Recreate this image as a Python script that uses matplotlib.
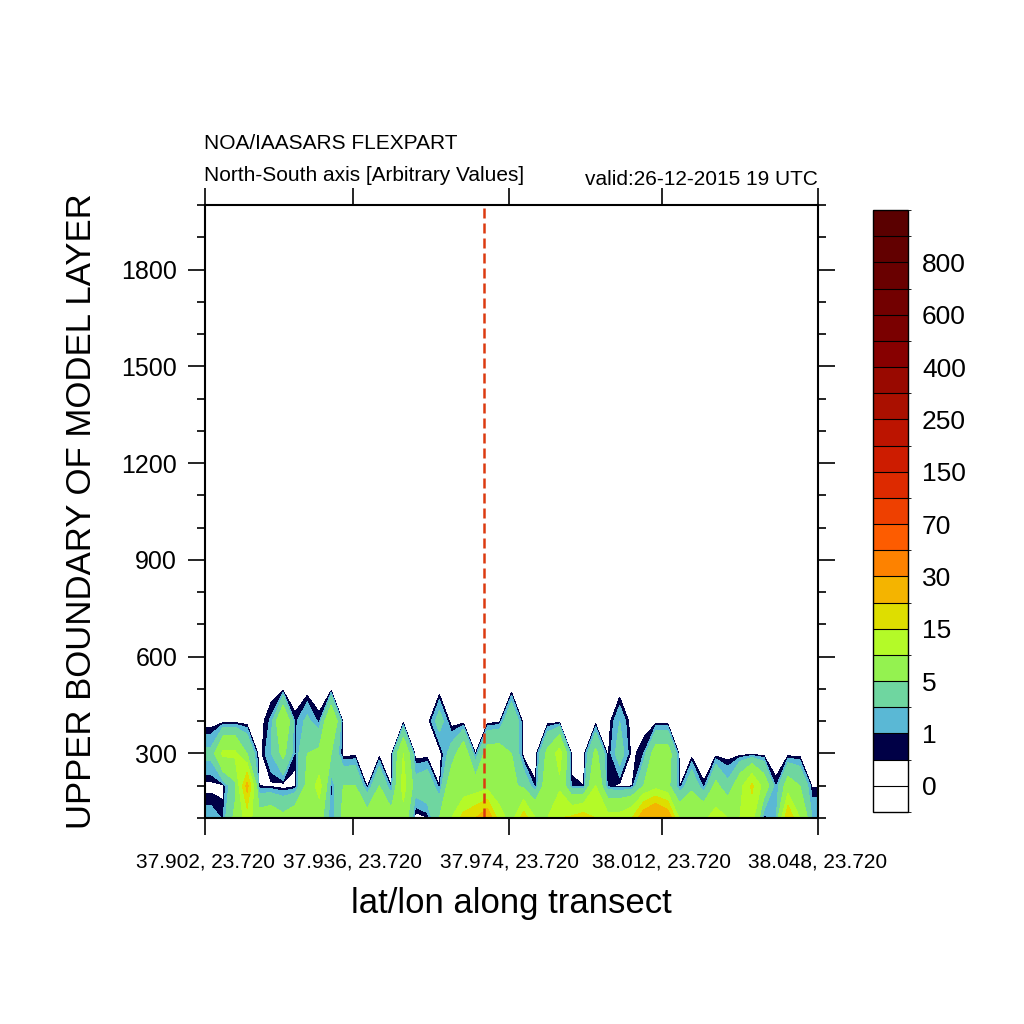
import numpy as np
import matplotlib as mpl
import matplotlib.pyplot as plt
from matplotlib.colors import ListedColormap, BoundaryNorm

plt.rcParams['font.family'] = ['Liberation Sans', 'DejaVu Sans']

# model layer tops and transect columns
heights = [100, 200, 300, 400, 500]
columns = np.arange(51)

# concentration at each layer, one value per transect column
conc_100 = [1.5, 0.9, 6, 12, 7, 8, 6, 8, 8, 7, 0.7, 6, 8, 7, 8, 7, 8, 0, 0.4, 5,
            10, 17, 20, 25, 12, 8, 18, 10, 10, 15, 16, 18, 15, 12, 12, 15, 25, 30, 25, 9,
            10, 9, 12, 10, 10, 12, 0.3, 1.5, 20, 10, 2]
conc_200 = [0.2, 0.2, 4, 22, 0.5, 0.3, 0, 0.3, 6, 12, 0.7, 5, 5, 0.3, 5, 0.5, 12, 3, 4, 0.5,
            8, 6, 7, 8, 7, 6, 4, 0.6, 8, 9, 0.6, 0.5, 10, 0.6, 0.3, 0.4, 5, 8, 6, 0.4,
            4, 0.6, 6, 2.5, 8, 16, 8, 0.7, 7, 5, 0.4]
conc_300 = [2.5, 11, 11, 5, 0, 2, 6, 0.7, 5, 6, 5, 0, 0.2, 0, 0, 0, 10, 0, 0, 0,
            3, 8, 0.5, 7, 7, 5, 0, 0, 6, 12, 0.3, 0, 6, 0.3, 3, 0.2, 1, 7, 7, 0,
            0, 0, 0, 0, 0, 0, 0, 0, 0, 0, 0]
conc_400 = [0, 0, 0, 0, 0, 1.2, 10, 0.7, 2.5, 0.7, 10, 0, 0, 0, 0, 0, 0, 0, 0, 3,
            0, 0, 0, 0, 0.3, 5, 0, 0, 0, 0, 0, 0, 0, 0, 2, 0, 0, 0, 0, 0,
            0, 0, 0, 0, 0, 0, 0, 0, 0, 0, 0]
conc_500 = [0] * 51

levels = [0, 0.5, 1, 2, 5, 10, 15, 20, 30, 50, 70, 100, 150, 200, 250, 300,
          400, 500, 600, 700, 800, 900]
box_colors = ['#ffffff', '#ffffff', '#000046', '#5ab8d5', '#6fd6a0', '#94f250',
              '#b4fa28', '#dede00', '#f4b400', '#fd8200', '#fd5c00', '#ee4000',
              '#dd2a00', '#cd1c00', '#bc1400', '#aa1000', '#990900', '#870000',
              '#7a0000', '#720000', '#690000', '#620000', '#5a0000']
label_text = ['0', '1', '5', '15', '30', '70', '150', '250', '400', '600', '800']

tick_cols = [-0.5, 11.8, 24.8, 37.5, 50.5]
tick_text = ['37.902, 23.720', '37.936, 23.720', '37.974, 23.720',
             '38.012, 23.720', '38.048, 23.720']
station_col = 22.7

z = np.array([conc_100, conc_200, conc_300, conc_400, conc_500], dtype=float)
# stretch the edge columns out to the cell borders
zp = np.pad(z, ((0, 0), (1, 1)), mode='edge')
xp = np.concatenate([[columns[0] - 0.5], columns, [columns[-1] + 0.5]])

fig = plt.figure(figsize=(10.24, 10.24), dpi=100)
ax = fig.add_axes([205 / 1024, 1 - 818 / 1024, 613 / 1024, 613 / 1024])
cax = fig.add_axes([873 / 1024, 1 - 812 / 1024, 35 / 1024, 602 / 1024])

ax.contourf(xp, heights, zp, levels=levels, colors=box_colors[1:22])
ax.axvline(station_col, color='#dc3a10', lw=1.8, ls=(0, (4, 2)))

ax.set_xlim(-0.5, 50.5)
ax.set_ylim(100, 2000)
ax.set_xticks(tick_cols)
ax.set_xticklabels(tick_text, fontsize=15)
ax.set_yticks(np.arange(300, 1801, 300))
ax.set_yticks(np.arange(100, 2001, 100), minor=True)
ax.tick_params(axis='y', labelsize=18)
ax.tick_params(which='major', direction='out', length=12, width=1.2,
               top=True, right=True, pad=8)
ax.tick_params(axis='x', pad=13)
ax.tick_params(axis='y', which='minor', direction='out', length=6, width=1.2,
               left=True, right=True)
for s in ax.spines.values():
    s.set_linewidth(1.5)

n_box = len(box_colors)
cmap = ListedColormap(box_colors)
norm = BoundaryNorm(np.arange(n_box + 1), n_box)
cb = mpl.colorbar.ColorbarBase(cax, cmap=cmap, norm=norm,
                               boundaries=np.arange(n_box + 1),
                               ticks=np.arange(1, 22, 2), drawedges=True)
cb.set_ticklabels(label_text)
cb.ax.tick_params(length=0, labelsize=19, pad=10)
cb.outline.set_linewidth(1)
cb.dividers.set_color('black')
cb.dividers.set_linewidth(0.8)

fig.text(204 / 1024, 1 - 149 / 1024, 'NOA/IAASARS FLEXPART', fontsize=15,
         va='baseline')
fig.text(204 / 1024, 1 - 181 / 1024, 'North-South axis [Arbitrary Values]',
         fontsize=15, va='baseline')
fig.text(818 / 1024, 1 - 185 / 1024, 'valid:26-12-2015 19 UTC', fontsize=15,
         va='baseline', ha='right')
fig.text(511 / 1024, 1 - 904 / 1024, 'lat/lon along transect', fontsize=25,
         ha='center', va='center')
fig.text(82 / 1024, 1 - 511 / 1024, 'UPPER BOUNDARY OF MODEL LAYER', fontsize=25,
         rotation=90, ha='center', va='center')

fig.savefig('out.png', dpi=100, facecolor='white')
